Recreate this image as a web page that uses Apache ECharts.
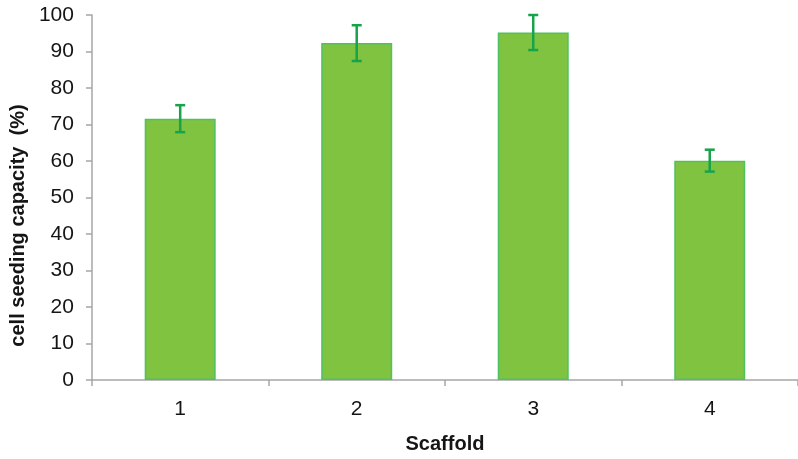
<!DOCTYPE html>
<html><head><meta charset="utf-8">
<script src="https://cdn.jsdelivr.net/npm/echarts@6/dist/echarts.min.js"></script>
<style>html,body{margin:0;padding:0;background:#fff}#c{width:798px;height:459px}</style>
</head><body><div id="c"></div>
<script>
const categories = ['1', '2', '3', '4'];
const values = [71.6, 92.3, 95.2, 60.1];
const errors = [3.7, 4.9, 4.8, 3.0];
const yTicks = [0, 10, 20, 30, 40, 50, 60, 70, 80, 90, 100];

const chart = echarts.init(document.getElementById('c'));
const tickFont = '"Liberation Sans", Arial, sans-serif';
chart.setOption({
  animation: false,
  grid: { left: 91, top: 15, width: 712, bottom: 78 },
  xAxis: {
    type: 'category', data: categories,
    axisLine: { lineStyle: { color: '#a6a6a6', width: 1.5 } },
    axisTick: { show: true, length: 6, lineStyle: { color: '#a6a6a6', width: 1.5 } },
    axisLabel: { color: '#151515', fontSize: 21, fontFamily: tickFont, margin: 19 },
    name: 'Scaffold', nameLocation: 'middle', nameGap: 54,
    nameTextStyle: { color: '#151515', fontSize: 20, fontWeight: 'bold', fontFamily: tickFont }
  },
  yAxis: {
    type: 'value', min: yTicks[0], max: yTicks[yTicks.length - 1], interval: 10,
    splitLine: { show: false },
    axisLine: { show: true, lineStyle: { color: '#a6a6a6', width: 1.5 } },
    axisTick: { show: true, length: 6, lineStyle: { color: '#a6a6a6', width: 1.5 } },
    axisLabel: { color: '#151515', fontSize: 21, fontFamily: tickFont, margin: 18 },
    name: 'cell seeding capacity  (%)', nameLocation: 'middle', nameGap: 63, nameRotate: 90,
    nameTextStyle: { color: '#151515', fontSize: 20, fontWeight: 'bold', fontFamily: tickFont, padding: [0, 0, 0, -56] }
  },
  series: [{
    type: 'bar', data: values, barWidth: 71,
    itemStyle: { color: '#7fc341', borderColor: '#4fc162', borderWidth: 1.5 }
  }, {
    type: 'custom',
    data: values.map((v, i) => [i, v - errors[i], v + errors[i]]),
    renderItem: function (params, api) {
      const x = api.coord([api.value(0), 0])[0];
      const lo = api.coord([api.value(0), api.value(1)])[1];
      const hi = api.coord([api.value(0), api.value(2)])[1];
      const st = { stroke: '#17a34a', lineWidth: 2.5 };
      return { type: 'group', children: [
        { type: 'line', shape: { x1: x, y1: lo, x2: x, y2: hi }, style: st },
        { type: 'line', shape: { x1: x - 5, y1: lo, x2: x + 5, y2: lo }, style: st },
        { type: 'line', shape: { x1: x - 5, y1: hi, x2: x + 5, y2: hi }, style: st }
      ] };
    },
    z: 5
  }]
});
</script></body></html>
